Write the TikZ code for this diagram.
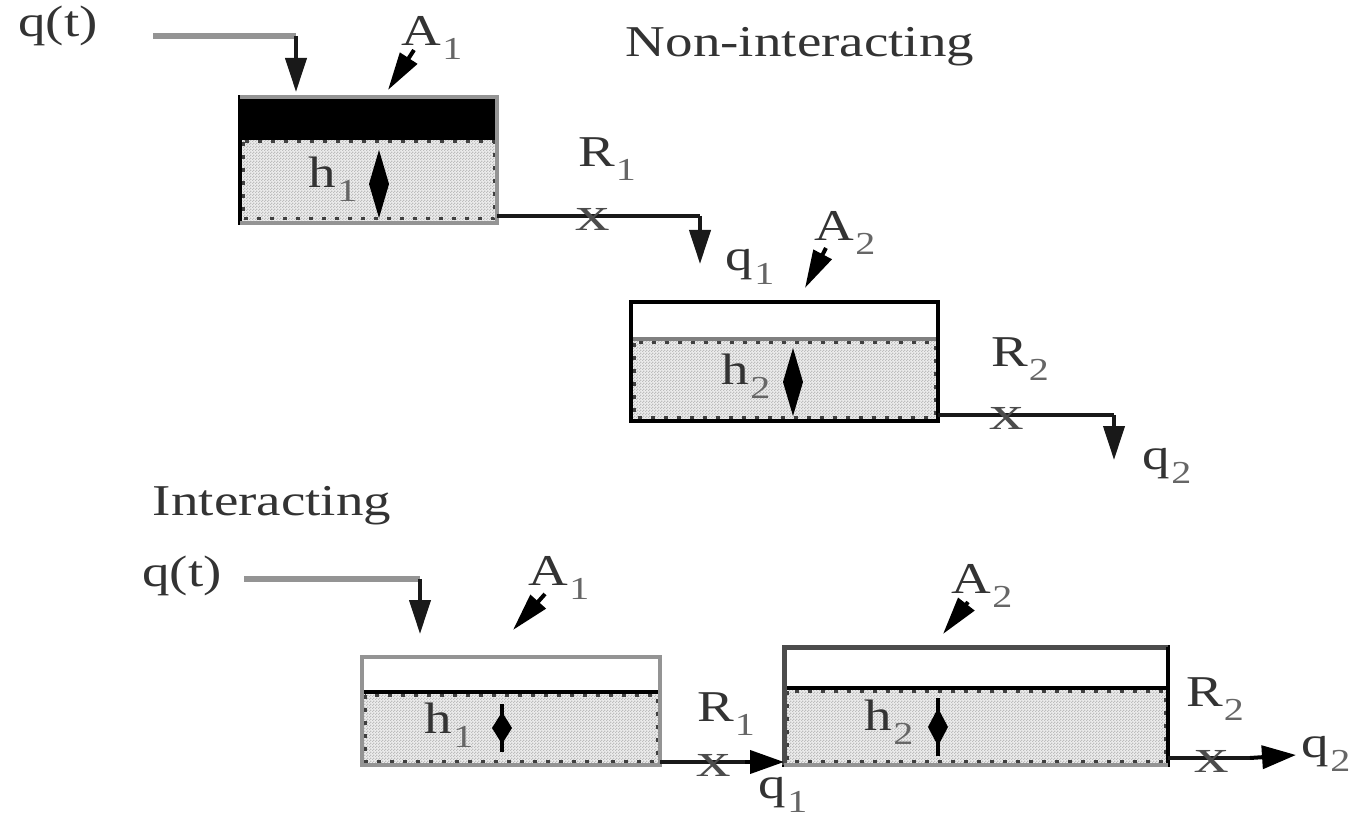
\documentclass[tikz,border=0pt]{standalone}
\usepackage{fontspec}
\setmainfont[FakeStretch=1.25]{Liberation Serif}
\usetikzlibrary{arrows.meta,calc,patterns}
\definecolor{water}{gray}{0.93}
\definecolor{hatch}{gray}{0.74}
\definecolor{pipe}{gray}{0.58}
\definecolor{edge}{gray}{0.58}
\pgfdeclarepatternformonly{checks}{\pgfqpoint{0pt}{0pt}}{\pgfqpoint{3pt}{3pt}}{\pgfqpoint{3pt}{3pt}}{%
  \pgfpathrectangle{\pgfqpoint{0pt}{0pt}}{\pgfqpoint{1.5pt}{1.5pt}}%
  \pgfpathrectangle{\pgfqpoint{1.5pt}{1.5pt}}{\pgfqpoint{1.5pt}{1.5pt}}%
  \pgfusepath{fill}}
\newcommand{\sbs}[1]{\kern1pt\raisebox{-14pt}{\fontsize{32}{32}\selectfont\color{black!60}#1}}
\newcommand{\spindle}[4]{\fill[black] (#1,#2) -- (#1+#4,{(#2+#3)/2}) -- (#1,#3) -- (#1-#4,{(#2+#3)/2}) -- cycle;}
\tikzset{
  x=1pt,y=-1pt,
  tankbox/.style={draw=black,line width=4pt,fill=white,minimum width=#1,inner sep=0pt,outer sep=0pt,anchor=north west},
  liquid/.style={pattern=checks,pattern color=hatch,draw=none,inner sep=0pt,outer sep=0pt,anchor=north west},
  speck/.style={line width=3pt,draw=black!75,dash pattern=on 4pt off 9pt},
  lvl/.style={line width=4pt,draw=black},
  greyedge/.style={line width=4pt,draw=edge},
  pipeline/.style={line width=4pt,draw=black!90},
  feed/.style={line width=6pt,draw=pipe},
  flowarrow/.style={line width=4pt,black!90,-{Triangle[length=34pt,width=21pt]}},
  leader/.style={line width=4pt,black,-{Triangle[length=38pt,width=20pt]}},
  flat/.style={line width=4pt,black,-{Triangle[length=34pt,width=23pt]}},
  lab/.style={font=\fontsize{44}{44}\selectfont,inner sep=0pt,text=black!80},
  valve/.style={font=\fontsize{48}{48}\selectfont,inner sep=0pt,text=black!70}
}
\begin{document}
\begin{tikzpicture}
\useasboundingbox (0,0) rectangle (1350,826);
% Non-interacting
\node[lab] (title1) at (800,47) {Non-interacting};
\node[lab] (q0a) at (58,26) {q(t)};
\node[tankbox=257pt,minimum height=126pt] (t1) at (240,97) {};
\fill[water] (242,140) rectangle (495,221);
\node[liquid,minimum width=253pt,minimum height=81pt] (w1) at (242,140) {};
\draw[speck] (243,142) rectangle (494,219);
\fill[black] (t1.north west) rectangle ($(t1.north east)+(0,43)$);
\draw[lvl] (t1.north west) -- (t1.south west);
\draw[greyedge] (t1.north west) -- (t1.north east) -- (t1.south east) -- (t1.south west);
\node[lab] (h1) at (333,179) {h\sbs{1}};
\spindle{379}{150}{218}{10}
\coordinate (f1) at (296,36);
\coordinate (f1b) at (296,92);
\draw[feed] (153,36) -- (f1);
\draw[flowarrow] (f1) -- (f1b);
\node[lab] (A1a) at (432,38) {A\sbs{1}};
\coordinate (A1at) at (388,90);
\draw[leader] (414,50) -- (A1at);
\node[lab] (R1a) at (607,159) {R\sbs{1}};
\coordinate (p1) at (700,216);
\draw[pipeline] (t1.south east |- 0,216) -- (p1);
\node[valve] (x1) at (593,219) {\scalebox{1.15}[1]{x}};
\draw[flowarrow] (p1) -- (700,264);
\node[lab] (q1a) at (750,267) {q\sbs{1}};
\node[lab] (A2a) at (845,233) {A\sbs{2}};
\draw[leader] (826,248) -- (805,288);
\node[tankbox=307pt,minimum height=119pt] (t2) at (631,302) {};
\fill[water] (633,340) rectangle (936,419);
\node[liquid,minimum width=303pt,minimum height=79pt] (w2) at (633,340) {};
\draw[speck] (634,343) rectangle (935,417);
\draw[line width=4pt,draw=black!50] (633,339) -- (936,339);
\draw[lvl] (t2.north west) rectangle (t2.south east);
\node[lab] (h2) at (746,376) {h\sbs{2}};
\spindle{793}{348}{416}{10}
\node[lab] (R2a) at (1020,359) {R\sbs{2}};
\coordinate (p2) at (1114,415);
\draw[pipeline] (938,415) -- (p2);
\node[valve] (x2) at (1007,418) {\scalebox{1.15}[1]{x}};
\draw[flowarrow] (p2) -- (1114,460);
\node[lab] (q2a) at (1167,466) {q\sbs{2}};
% Interacting
\node[lab] (title2) at (272,506) {Interacting};
\node[lab] (q0b) at (182,576) {q(t)};
\coordinate (f2) at (420,579);
\draw[feed] (244,579) -- (f2);
\draw[flowarrow] (f2) -- (420,634);
\node[lab] (A1b) at (559,578) {A\sbs{1}};
\draw[leader] (545,594) -- (513,630);
\node[tankbox=298pt,minimum height=108pt] (t3) at (362,657) {};
\fill[water] (364,692) rectangle (658,763);
\node[liquid,minimum width=294pt,minimum height=71pt] (w3) at (364,692) {};
\draw[speck] (365,695) rectangle (657,761);
\draw[line width=4pt,draw=black] (364,692) -- (658,692);
\draw[greyedge] (t3.north west) rectangle (t3.south east);
\node[lab] (h3) at (449,725) {h\sbs{1}};
\draw[line width=4pt] (502,704) -- (502,752);
\spindle{502}{712}{744}{10}
\node[tankbox=384pt,minimum height=118pt] (t4) at (784,647) {};
\fill[water] (786,688) rectangle (1166,763);
\node[liquid,minimum width=380pt,minimum height=75pt] (w4) at (786,688) {};
\draw[speck] (787,691) rectangle (1165,761);
\draw[line width=4pt,draw=black] (786,688) -- (1166,688);
\draw[line width=5pt,draw=black!70] (t4.south west) -- (t4.north west) -- (t4.north east);
\draw[lvl] (t4.north east) -- (t4.south east);
\draw[greyedge] (t4.south west) -- (t4.south east);
\node[lab] (h4) at (889,722) {h\sbs{2}};
\draw[line width=4pt] (938,698) -- (938,756);
\spindle{938}{708}{746}{10}
\node[lab] (A2b) at (982,586) {A\sbs{2}};
\draw[leader] (968,602) -- (943,634);
\node[lab] (R1b) at (726,714) {R\sbs{1}};
\draw[pipeline] (660,762) -- (745,762);
\node[valve] (x3) at (714,765) {\scalebox{1.15}[1]{x}};
\draw[flat] (745,762) -- (784,762);
\node[lab] (q1b) at (783,795) {q\sbs{1}};
\node[lab] (R2b) at (1215,699) {R\sbs{2}};
\draw[pipeline] (1168,758) -- (1250,758);
\node[valve] (x4) at (1212,761) {\scalebox{1.15}[1]{x}};
\draw[flat] (1250,758) -- (1296,755);
\node[lab] (q2b) at (1326,754) {q\sbs{2}};
\end{tikzpicture}
\end{document}
